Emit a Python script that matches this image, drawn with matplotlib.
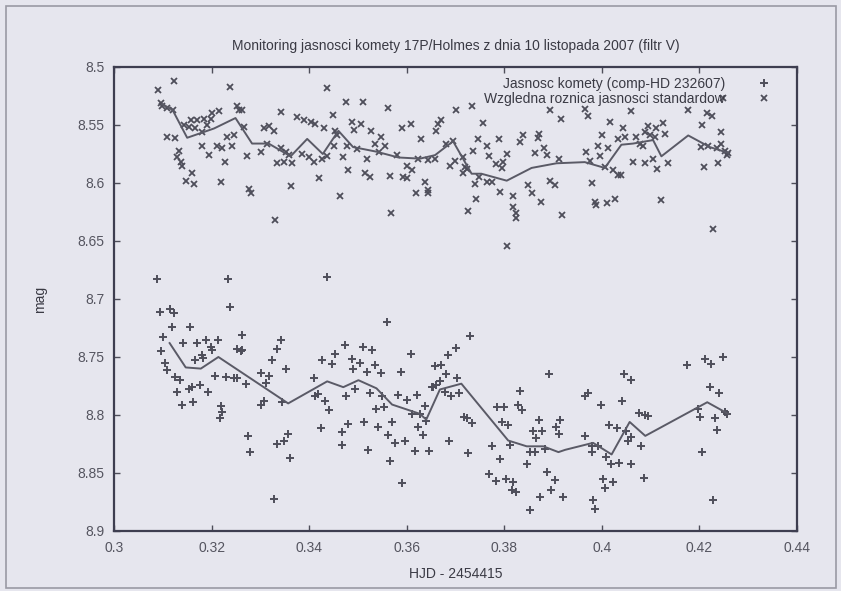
import matplotlib
matplotlib.use("Agg")
import matplotlib.pyplot as plt
from matplotlib.patches import Rectangle
from matplotlib.lines import Line2D

# comet brightness (comp - HD 232607), '+' points
comet_x = [0.3089, 0.3234, 0.3436, 0.3094, 0.3115, 0.3123, 0.3238, 0.3118, 0.3156, 0.3101,
           0.3262, 0.3142, 0.3171, 0.3188, 0.3213, 0.3198, 0.3201, 0.3253, 0.3263, 0.3260,
           0.3342, 0.3334, 0.3097, 0.3181, 0.3183, 0.3167, 0.3324, 0.3104, 0.3109, 0.3353,
           0.3427, 0.3447, 0.3454, 0.3301, 0.3318, 0.3311, 0.3208, 0.3229, 0.3245, 0.3253,
           0.3271, 0.3126, 0.3135, 0.3176, 0.3130, 0.3154, 0.3160, 0.3193, 0.3140, 0.3162,
           0.3219, 0.3222, 0.3217, 0.3301, 0.3308, 0.3345, 0.3410, 0.3413, 0.3418, 0.3432,
           0.3441, 0.3424, 0.3275, 0.3279, 0.3335, 0.3348, 0.3357, 0.3361, 0.3327, 0.3467,
           0.3467, 0.3559, 0.3730, 0.3473, 0.3510, 0.3529, 0.3608, 0.3701, 0.3684, 0.3487,
           0.3504, 0.3490, 0.3535, 0.3518, 0.3547, 0.3588, 0.3659, 0.3670, 0.3680, 0.3704,
           0.3651, 0.3661, 0.3654, 0.3668, 0.3475, 0.3495, 0.3525, 0.3550, 0.3583, 0.3600,
           0.3622, 0.3637, 0.3678, 0.3690, 0.3707, 0.3537, 0.3554, 0.3610, 0.3627, 0.3640,
           0.3624, 0.3633, 0.3717, 0.3723, 0.3733, 0.3832, 0.3829, 0.3836, 0.3786, 0.3799,
           0.3795, 0.3808, 0.3891, 0.3871, 0.3858, 0.3878, 0.3866, 0.3915, 0.3907, 0.3912,
           0.3480, 0.3512, 0.3542, 0.3570, 0.3562, 0.3576, 0.3596, 0.3565, 0.3521, 0.3617,
           0.3646, 0.3687, 0.3725, 0.3591, 0.3775, 0.3791, 0.3812, 0.3846, 0.3852, 0.3863,
           0.3883, 0.3769, 0.3783, 0.3803, 0.3818, 0.3815, 0.3823, 0.3887, 0.3904, 0.3895,
           0.3873, 0.3920, 0.3853, 0.4174, 0.4211, 0.4224, 0.4249, 0.4046, 0.4059, 0.3965,
           0.3971, 0.3999, 0.4041, 0.4221, 0.4241, 0.4076, 0.4088, 0.4094, 0.4198, 0.4201,
           0.4232, 0.4235, 0.4253, 0.4257, 0.4015, 0.4032, 0.3965, 0.3979, 0.3979, 0.3993,
           0.4050, 0.4060, 0.4054, 0.4080, 0.4009, 0.4018, 0.4035, 0.4060, 0.4206, 0.4003,
           0.4023, 0.4006, 0.4087, 0.3982, 0.3986, 0.4227]
comet_mag = [8.683, 8.683, 8.681, 8.711, 8.709, 8.712, 8.707, 8.724, 8.724, 8.733,
             8.731, 8.738, 8.738, 8.735, 8.735, 8.741, 8.744, 8.743, 8.744, 8.745,
             8.735, 8.743, 8.745, 8.748, 8.751, 8.753, 8.753, 8.755, 8.761, 8.760,
             8.753, 8.756, 8.747, 8.764, 8.766, 8.772, 8.766, 8.767, 8.768, 8.768,
             8.773, 8.767, 8.770, 8.774, 8.780, 8.778, 8.776, 8.780, 8.791, 8.789,
             8.792, 8.797, 8.803, 8.791, 8.788, 8.789, 8.768, 8.784, 8.782, 8.788,
             8.796, 8.811, 8.818, 8.832, 8.825, 8.822, 8.816, 8.837, 8.872, 8.815,
             8.826, 8.720, 8.732, 8.740, 8.741, 8.744, 8.747, 8.742, 8.748, 8.752,
             8.755, 8.760, 8.757, 8.763, 8.764, 8.763, 8.758, 8.757, 8.765, 8.768,
             8.776, 8.774, 8.776, 8.771, 8.784, 8.778, 8.781, 8.784, 8.783, 8.787,
             8.783, 8.792, 8.780, 8.784, 8.781, 8.795, 8.793, 8.799, 8.799, 8.805,
             8.810, 8.817, 8.802, 8.803, 8.807, 8.779, 8.791, 8.796, 8.793, 8.793,
             8.806, 8.809, 8.765, 8.804, 8.814, 8.814, 8.820, 8.804, 8.810, 8.816,
             8.808, 8.806, 8.810, 8.806, 8.817, 8.824, 8.822, 8.840, 8.830, 8.831,
             8.831, 8.822, 8.833, 8.859, 8.827, 8.838, 8.826, 8.842, 8.832, 8.832,
             8.829, 8.851, 8.857, 8.855, 8.858, 8.865, 8.866, 8.849, 8.856, 8.865,
             8.871, 8.871, 8.882, 8.757, 8.752, 8.756, 8.750, 8.765, 8.770, 8.784,
             8.781, 8.791, 8.788, 8.776, 8.781, 8.798, 8.800, 8.801, 8.795, 8.802,
             8.803, 8.813, 8.797, 8.799, 8.809, 8.811, 8.818, 8.827, 8.832, 8.827,
             8.814, 8.819, 8.822, 8.827, 8.836, 8.842, 8.841, 8.842, 8.832, 8.855,
             8.858, 8.863, 8.854, 8.873, 8.881, 8.873]

# running mean of the comet
comet_mean_x = [0.3114, 0.3147, 0.3178, 0.3214, 0.3357, 0.3437, 0.3470, 0.3501, 0.3538,
                0.3570, 0.3627, 0.3640, 0.3668, 0.3712, 0.3808, 0.3846, 0.3880, 0.3911,
                0.3925, 0.3982, 0.4020, 0.4057, 0.4089, 0.4216, 0.4259]
comet_mean_mag = [8.738, 8.759, 8.760, 8.750, 8.790, 8.771, 8.776, 8.770, 8.777,
                  8.791, 8.799, 8.804, 8.778, 8.773, 8.822, 8.827, 8.827, 8.832,
                  8.830, 8.824, 8.834, 8.806, 8.818, 8.789, 8.799]

# relative difference of standards, 'x' points
std_x = [0.3124, 0.3091, 0.3238, 0.3437, 0.3096, 0.3099, 0.3109, 0.3120, 0.3253, 0.3263,
         0.3256, 0.3342, 0.3215, 0.3201, 0.3198, 0.3157, 0.3171, 0.3184, 0.3143, 0.3154,
         0.3167, 0.3181, 0.3191, 0.3376, 0.3390, 0.3403, 0.3413, 0.3448, 0.3266, 0.3307,
         0.3318, 0.3328, 0.3430, 0.3454, 0.3458, 0.3109, 0.3126, 0.3232, 0.3245, 0.3242,
         0.3181, 0.3212, 0.3222, 0.3301, 0.3314, 0.3342, 0.3352, 0.3359, 0.3386, 0.3400,
         0.3410, 0.3427, 0.3437, 0.3451, 0.3133, 0.3130, 0.3137, 0.3140, 0.3195, 0.3227,
         0.3273, 0.3335, 0.3348, 0.3365, 0.3160, 0.3147, 0.3164, 0.3219, 0.3277, 0.3280,
         0.3362, 0.3420, 0.3464, 0.3329, 0.3475, 0.3511, 0.3562, 0.3702, 0.3733, 0.3893,
         0.3917, 0.3487, 0.3506, 0.3492, 0.3590, 0.3608, 0.3664, 0.3670, 0.3661, 0.3756,
         0.3526, 0.3548, 0.3535, 0.3555, 0.3543, 0.3629, 0.3680, 0.3695, 0.3747, 0.3790,
         0.3764, 0.3838, 0.3832, 0.3871, 0.3869, 0.3477, 0.3498, 0.3470, 0.3519, 0.3580,
         0.3624, 0.3644, 0.3658, 0.3600, 0.3610, 0.3688, 0.3699, 0.3716, 0.3719, 0.3735,
         0.3769, 0.3784, 0.3798, 0.3805, 0.3795, 0.3863, 0.3887, 0.3881, 0.3913, 0.3480,
         0.3514, 0.3525, 0.3565, 0.3592, 0.3600, 0.3637, 0.3723, 0.3716, 0.3749, 0.3740,
         0.3764, 0.3774, 0.3791, 0.3818, 0.3849, 0.3856, 0.3876, 0.3893, 0.3904, 0.3619,
         0.3644, 0.3644, 0.3743, 0.3726, 0.3568, 0.3818, 0.3824, 0.3825, 0.3919, 0.3805,
         0.3965, 0.3971, 0.4059, 0.4176, 0.4215, 0.4225, 0.4249, 0.4017, 0.4044, 0.4001,
         0.4095, 0.4112, 0.4126, 0.4129, 0.4088, 0.4098, 0.4108, 0.4205, 0.4244, 0.4034,
         0.4048, 0.4071, 0.4078, 0.4085, 0.3993, 0.4013, 0.3967, 0.3996, 0.4204, 0.4218,
         0.4235, 0.4245, 0.4253, 0.4259, 0.4256, 0.3976, 0.4006, 0.4023, 0.4034, 0.4040,
         0.4064, 0.4088, 0.4105, 0.4114, 0.4136, 0.4209, 0.4238, 0.3980, 0.3986, 0.3989,
         0.4010, 0.4027, 0.4121, 0.4228]
std_mag = [8.512, 8.520, 8.517, 8.518, 8.531, 8.534, 8.535, 8.537, 8.534, 8.537,
           8.537, 8.539, 8.538, 8.540, 8.545, 8.546, 8.546, 8.545, 8.550, 8.552,
           8.553, 8.556, 8.550, 8.543, 8.546, 8.547, 8.549, 8.541, 8.552, 8.553,
           8.551, 8.555, 8.553, 8.555, 8.559, 8.560, 8.561, 8.560, 8.559, 8.568,
           8.568, 8.568, 8.570, 8.573, 8.566, 8.570, 8.573, 8.576, 8.575, 8.578,
           8.582, 8.579, 8.577, 8.568, 8.572, 8.578, 8.582, 8.585, 8.576, 8.582,
           8.577, 8.583, 8.582, 8.583, 8.591, 8.598, 8.601, 8.599, 8.605, 8.609,
           8.603, 8.596, 8.611, 8.632, 8.530, 8.530, 8.535, 8.537, 8.534, 8.537,
           8.545, 8.547, 8.549, 8.554, 8.553, 8.549, 8.549, 8.546, 8.555, 8.548,
           8.555, 8.560, 8.566, 8.568, 8.573, 8.562, 8.566, 8.564, 8.562, 8.562,
           8.568, 8.559, 8.565, 8.558, 8.561, 8.568, 8.571, 8.578, 8.579, 8.576,
           8.579, 8.580, 8.579, 8.585, 8.589, 8.585, 8.581, 8.578, 8.586, 8.572,
           8.577, 8.584, 8.582, 8.575, 8.587, 8.574, 8.576, 8.570, 8.579, 8.589,
           8.591, 8.595, 8.594, 8.595, 8.596, 8.599, 8.588, 8.591, 8.595, 8.601,
           8.599, 8.599, 8.608, 8.611, 8.602, 8.609, 8.616, 8.598, 8.602, 8.609,
           8.606, 8.609, 8.614, 8.624, 8.626, 8.621, 8.626, 8.630, 8.628, 8.654,
           8.536, 8.542, 8.538, 8.537, 8.540, 8.542, 8.527, 8.547, 8.553, 8.559,
           8.551, 8.553, 8.548, 8.558, 8.556, 8.559, 8.560, 8.550, 8.556, 8.562,
           8.560, 8.560, 8.566, 8.568, 8.568, 8.570, 8.573, 8.577, 8.569, 8.568,
           8.570, 8.566, 8.572, 8.574, 8.576, 8.581, 8.586, 8.589, 8.593, 8.593,
           8.582, 8.583, 8.579, 8.588, 8.583, 8.586, 8.583, 8.600, 8.616, 8.619,
           8.617, 8.614, 8.615, 8.640]

# running mean of the standards
std_mean_x = [0.3099, 0.3120, 0.3150, 0.3205, 0.3249, 0.3283, 0.3317, 0.3362, 0.3396,
              0.3428, 0.3460, 0.3490, 0.3538, 0.3583, 0.3627, 0.3658, 0.3695, 0.3733,
              0.3753, 0.3805, 0.3856, 0.3907, 0.3965, 0.4006, 0.4040, 0.4064, 0.4105,
              0.4122, 0.4177, 0.4221, 0.4259]
std_mean_mag = [8.532, 8.537, 8.561, 8.553, 8.544, 8.566, 8.566, 8.577, 8.562,
                8.575, 8.555, 8.569, 8.573, 8.578, 8.579, 8.576, 8.564, 8.592,
                8.592, 8.598, 8.587, 8.583, 8.582, 8.587, 8.567, 8.566, 8.563,
                8.577, 8.559, 8.569, 8.574]

xticks = [0.3, 0.32, 0.34, 0.36, 0.38, 0.4, 0.42, 0.44]
xtick_labels = ['0.3', '0.32', '0.34', '0.36', '0.38', '0.4', '0.42', '0.44']
yticks = [8.5, 8.55, 8.6, 8.65, 8.7, 8.75, 8.8, 8.85, 8.9]
ytick_labels = ['8.5', '8.55', '8.6', '8.65', '8.7', '8.75', '8.8', '8.85', '8.9']

paper = '#e6e6ee'
ink = '#4e4e5a'
plt.rcParams['font.family'] = ['Liberation Sans', 'DejaVu Sans']

fig = plt.figure(figsize=(8.41, 5.91), dpi=100, facecolor=paper)
ax = fig.add_axes([114 / 841, 1 - 531 / 591, 683 / 841, 464 / 591], facecolor=paper)

ax.plot(comet_x, comet_mag, linestyle='none', marker='+', markersize=6,
        markeredgewidth=1.4, color=ink)
ax.plot(std_x, std_mag, linestyle='none', marker='x', markersize=5,
        markeredgewidth=1.3, color=ink)
ax.plot(comet_mean_x, comet_mean_mag, color='#5a5a66', linewidth=1.4)
ax.plot(std_mean_x, std_mean_mag, color='#5a5a66', linewidth=1.4)

ax.set_xlim(0.3, 0.44)
ax.set_ylim(8.9, 8.5)
ax.set_xticks(xticks)
ax.set_xticklabels(xtick_labels)
ax.set_yticks(yticks)
ax.set_yticklabels(ytick_labels)
ax.tick_params(direction='in', length=4, width=1, color=ink, labelcolor='#555560',
               labelsize=10, top=True, right=True, pad=7)
for s in ax.spines.values():
    s.set_color('#3e3e50')
    s.set_linewidth(1.6)

ax.set_title('Monitoring jasnosci komety 17P/Holmes z dnia 10 listopada 2007 (filtr V)',
             fontsize=10, color='#3a3a44', pad=12)
ax.set_xlabel('HJD - 2454415', fontsize=10, color='#3a3a44', labelpad=9)
ax.set_ylabel('mag', fontsize=10, color='#3a3a44', labelpad=22)

handles = [Line2D([], [], linestyle='none', marker='+', markersize=6,
                  markeredgewidth=1.4, color=ink),
           Line2D([], [], linestyle='none', marker='x', markersize=5,
                  markeredgewidth=1.3, color=ink)]
leg = ax.legend(handles, ['Jasnosc komety (comp-HD 232607)',
                          'Wzgledna roznica jasnosci standardow'],
                loc='upper right', markerfirst=False, frameon=False, fontsize=10,
                handletextpad=1.8, labelspacing=0.1, borderaxespad=0.3,
                bbox_to_anchor=(0.986, 1.0))
for t in leg.get_texts():
    t.set_color('#3a3a44')

# scanned page border
fig.add_artist(Rectangle((6 / 841, 3 / 591), 830 / 841, 582 / 591, transform=fig.transFigure,
                         fill=False, edgecolor='#9a9aa4', linewidth=1.2))

fig.savefig('out.png', dpi=100, facecolor=paper)
